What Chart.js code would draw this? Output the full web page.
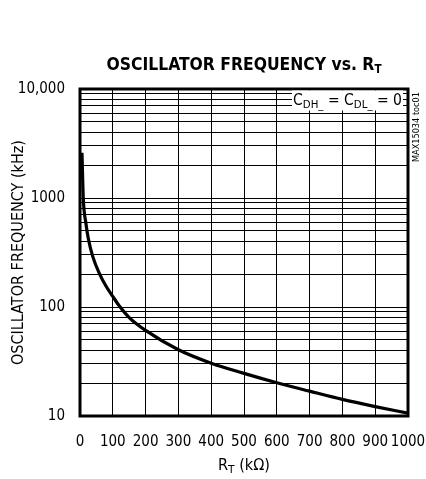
<!DOCTYPE html>
<html>
<head>
<meta charset="utf-8">
<script src="https://cdn.jsdelivr.net/npm/chart.js@4.4.0/dist/chart.umd.min.js"></script>
<style>
  body { margin: 0; background: #fff; }
  canvas { display: block; }
</style>
</head>
<body>
<canvas id="myChart" width="426" height="479"></canvas>
<script>
// Values (R in kOhm, f in kHz)
const resistance = [6, 10, 18, 25, 39, 60, 80, 100, 120, 150, 200, 300, 400, 500, 600, 700, 800, 900, 1000];
const frequency = [2600, 1000, 586, 430, 290, 200, 154, 125, 102, 80, 61, 40.5, 30.5, 24.6, 20.2, 16.9, 14.2, 12.2, 10.6];

const xTicks = [0, 100, 200, 300, 400, 500, 600, 700, 800, 900, 1000];
const yGrid = [10, 20, 30, 40, 50, 60, 70, 80, 90,
               100, 200, 300, 400, 500, 600, 700, 800, 900,
               1000, 2000, 3000, 4000, 5000, 6000, 7000, 8000, 9000, 10000];
const yLabels = { 10: '10', 100: '100', 1000: '1000', 10000: '10,000' };

const NARROW = '"Liberation Sans Narrow", "DejaVu Sans Condensed", "Arial Narrow", sans-serif';

// draw a row of text pieces (for subscripts), optionally squeezed to a width
function drawParts(ctx, parts, x, y, align, fitWidth) {
    let w = 0;
    parts.forEach(p => {
        ctx.font = p.font;
        p.w = ctx.measureText(p.text).width;
        w += p.w;
    });
    const sx = fitWidth ? fitWidth / w : 1;
    ctx.save();
    ctx.translate(x, y);
    ctx.scale(sx, 1);
    let cx = align === 'center' ? -w / 2 : (align === 'right' ? -w : 0);
    parts.forEach(p => {
        ctx.font = p.font;
        ctx.fillText(p.text, cx, p.dy || 0);
        cx += p.w;
    });
    ctx.restore();
}

const labelsPlugin = {
    id: 'labelsPlugin',
    afterDraw(chart) {
        const ctx = chart.ctx;
        const area = chart.chartArea;
        ctx.save();
        ctx.fillStyle = '#000';
        ctx.textBaseline = 'alphabetic';

        // frame
        ctx.lineWidth = 3;
        ctx.strokeStyle = '#000';
        ctx.strokeRect(area.left, area.top, area.right - area.left, area.bottom - area.top);

        // title
        const big = 'bold 18px ' + NARROW;
        drawParts(ctx, [
            { text: 'OSCILLATOR FREQUENCY vs. R', font: big },
            { text: 'T', font: 'bold 12px ' + NARROW, dy: 3 }
        ], (area.left + area.right) / 2, 70, 'center', 275);

        // condition box
        ctx.fillStyle = '#fff';
        ctx.fillRect(area.right - 116, area.top + 1.5, 111, 20);
        ctx.fillStyle = '#000';
        const f15 = '15px ' + NARROW;
        const f10 = '11px ' + NARROW;
        drawParts(ctx, [
            { text: 'C', font: f15 },
            { text: 'DH_', font: f10, dy: 3 },
            { text: ' = C', font: f15 },
            { text: 'DL_', font: f10, dy: 3 },
            { text: ' = 0', font: f15 }
        ], area.right - 6, area.top + 16, 'right', 109);

        // part number, rotated at right edge
        ctx.save();
        ctx.translate(area.right + 11, area.top + 38);
        ctx.rotate(-Math.PI / 2);
        drawParts(ctx, [{ text: 'MAX15034 toc01', font: '9px ' + NARROW }], 0, 0, 'center', 70);
        ctx.restore();

        // y title
        ctx.save();
        ctx.translate(23, (area.top + area.bottom) / 2);
        ctx.rotate(-Math.PI / 2);
        drawParts(ctx, [{ text: 'OSCILLATOR FREQUENCY (kHz)', font: f15 }], 0, 0, 'center', 225);
        ctx.restore();

        // x title
        drawParts(ctx, [
            { text: 'R', font: f15 },
            { text: 'T', font: f10, dy: 3 },
            { text: ' (k\u03A9)', font: f15 }
        ], (area.left + area.right) / 2, 470, 'center', 52);

        ctx.restore();
    }
};

const ctx = document.getElementById('myChart').getContext('2d');
const myChart = new Chart(ctx, {
    type: 'line',
    data: {
        datasets: [{
            data: resistance.map((r, i) => ({ x: r, y: frequency[i] })),
            borderColor: '#000',
            borderWidth: 3.2,
            pointRadius: 0,
            fill: false,
            cubicInterpolationMode: 'monotone'
        }]
    },
    options: {
        responsive: false,
        animation: false,
        devicePixelRatio: 1,
        layout: { padding: { top: 89, right: 18, left: 0, bottom: 0 } },
        plugins: {
            legend: { display: false },
            tooltip: { enabled: false }
        },
        scales: {
            x: {
                type: 'linear',
                min: 0,
                max: 1000,
                afterBuildTicks: axis => { axis.ticks = xTicks.map(v => ({ value: v })); },
                afterFit: axis => {
                    axis.height = 63;
                    axis.paddingLeft = 0;
                    axis.paddingRight = 0;
                },
                grid: { color: '#000', lineWidth: 1, drawTicks: false },
                border: { display: false },
                ticks: {
                    color: '#000',
                    padding: 17,
                    maxRotation: 0,
                    autoSkip: false,
                    font: { family: NARROW, size: 15 },
                    callback: v => String(v)
                }
            },
            y: {
                type: 'logarithmic',
                min: 10,
                max: 10000,
                afterBuildTicks: axis => { axis.ticks = yGrid.map(v => ({ value: v })); },
                afterFit: axis => {
                    axis.width = 80;
                    axis.paddingTop = 0;
                    axis.paddingBottom = 0;
                },
                grid: { color: '#000', lineWidth: 1, drawTicks: false },
                border: { display: false },
                ticks: {
                    color: '#000',
                    padding: 15,
                    autoSkip: false,
                    font: { family: NARROW, size: 15 },
                    callback: v => yLabels[v] || ''
                }
            }
        }
    },
    plugins: [labelsPlugin]
});
</script>
</body>
</html>
